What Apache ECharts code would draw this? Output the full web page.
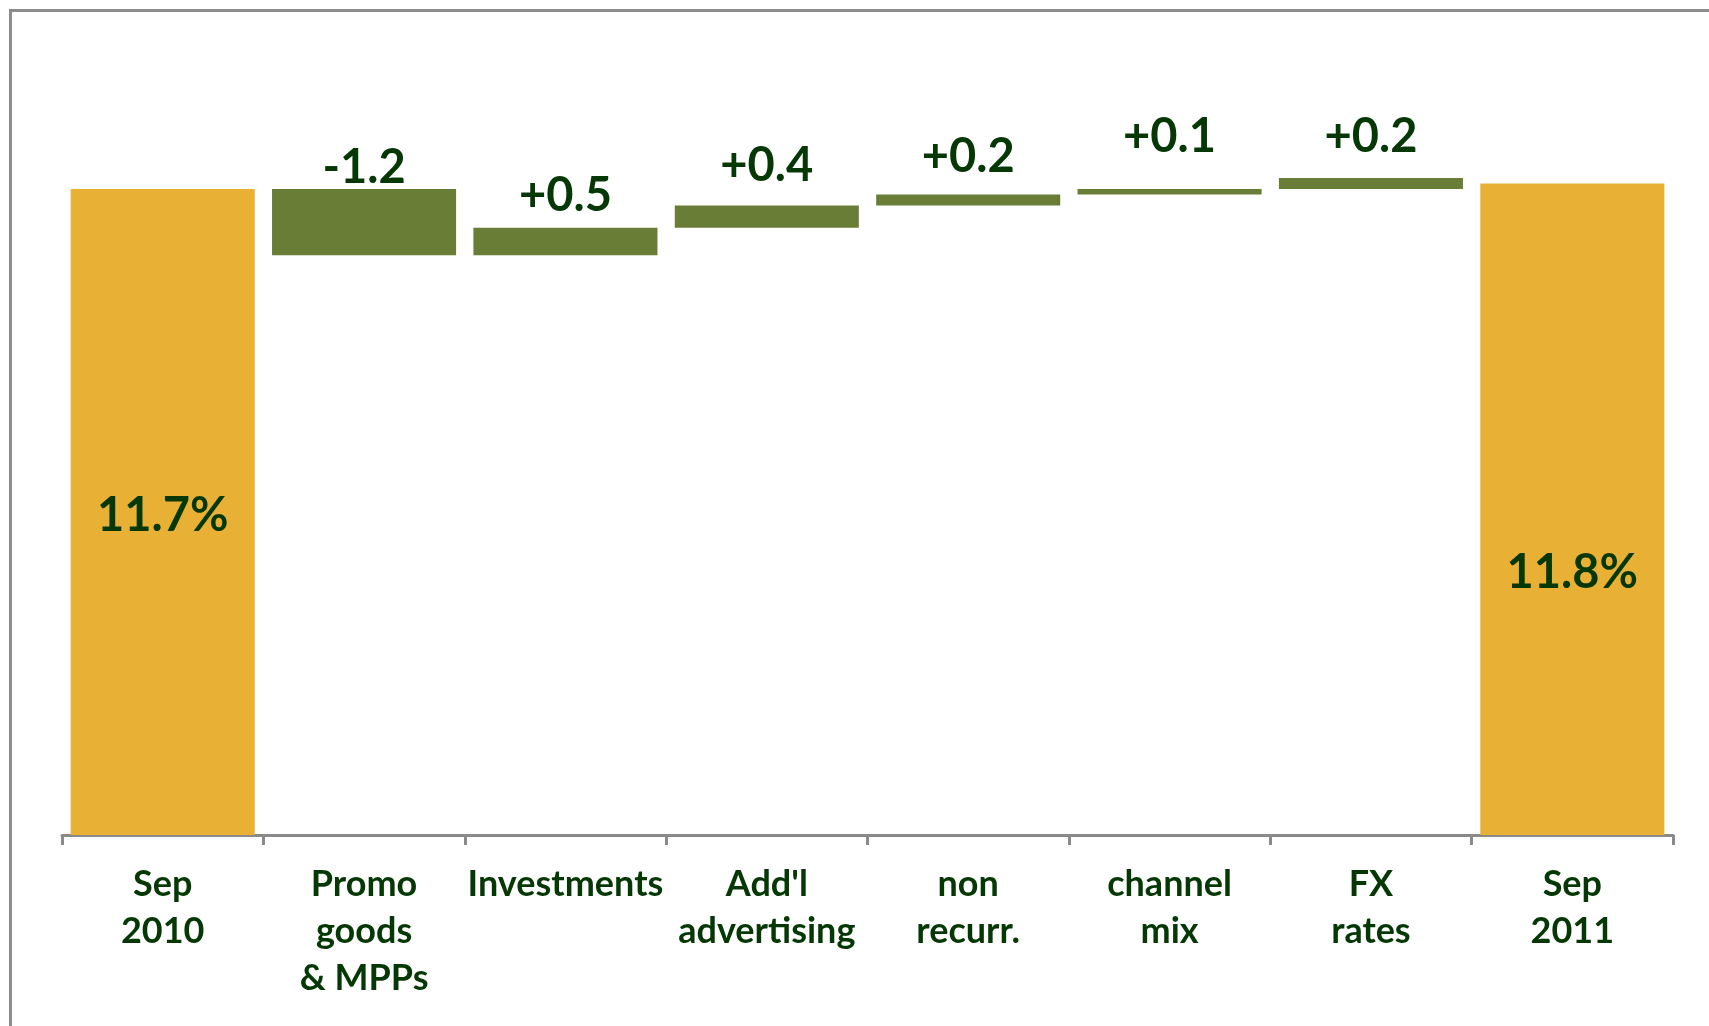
<!DOCTYPE html>
<html>
<head>
<meta charset="utf-8">
<title>Margin bridge Sep 2010 – Sep 2011</title>
<script src="https://cdn.jsdelivr.net/npm/echarts@6/dist/echarts.min.js"></script>
<style>
  html, body { margin: 0; padding: 0; background: #ffffff; }
  #chart { width: 1709px; height: 1026px; }
</style>
</head>
<body>
<div id="chart"></div>
<script>
// ---- data ----
const categories = ['Sep\n2010', 'Promo\ngoods\n& MPPs', 'Investments', "Add'l\nadvertising",
                    'non\nrecurr.', 'channel\nmix', 'FX\nrates', 'Sep\n2011'];
const startValue = 11.7;                           // Sep 2010, %
const deltas = [-1.2, 0.5, 0.4, 0.2, 0.1, 0.2];    // percentage-point changes
const endValue = 11.8;                             // Sep 2011, %

// ---- styling ----
const GOLD = '#e8b035';
const GREEN = '#697d37';
const TEXT = '#053805';
const GREY = '#8a8a8a';
const FONT = 'Lato';
// gap between each change bar and its value label
const changeLabelGap = [-3, 8, 16, 14, 28, 17];

// ---- waterfall geometry from the data ----
const n = categories.length;
const baseData = new Array(n).fill(0);
const totalData = new Array(n).fill('-');
const changeData = new Array(n).fill('-');
totalData[0] = startValue;
totalData[n - 1] = endValue;
let running = startValue;
deltas.forEach((d, i) => {
  const idx = i + 1;
  const next = running + d;
  baseData[idx] = +Math.min(running, next).toFixed(4);
  changeData[idx] = {
    value: +Math.abs(d).toFixed(4),
    label: { distance: changeLabelGap[i] }
  };
  running = next;
});

const fmtDelta = d => (d > 0 ? '+' : '') + d.toFixed(1);

const chart = echarts.init(document.getElementById('chart'), null, { renderer: 'canvas' });
chart.setOption({
  animation: false,
  backgroundColor: '#ffffff',
  graphic: [{
    type: 'rect',
    shape: { x: 10.5, y: 10.5, width: 1740, height: 1060 },
    style: { fill: 'none', stroke: '#8c8c8c', lineWidth: 3 },
    silent: true
  }],
  grid: { left: 62, right: 36, top: 62, bottom: 191 },
  xAxis: {
    type: 'category',
    data: categories,
    axisLine: { lineStyle: { color: GREY, width: 3 } },
    axisTick: { show: true, length: 10, lineStyle: { color: GREY, width: 3 } },
    axisLabel: {
      interval: 0,
      margin: 26,
      color: TEXT,
      fontFamily: FONT,
      fontWeight: 'bold',
      fontSize: 36,
      lineHeight: 47
    }
  },
  yAxis: {
    type: 'value',
    min: 0,
    max: 14,
    show: false,
    splitLine: { show: false }
  },
  series: [
    {
      name: 'base',
      type: 'bar',
      stack: 'bridge',
      barWidth: '91.4%',
      itemStyle: { color: 'transparent' },
      emphasis: { disabled: true },
      data: baseData
    },
    {
      name: 'margin',
      type: 'bar',
      stack: 'bridge',
      barWidth: '91.4%',
      itemStyle: { color: GOLD },
      label: {
        show: true,
        position: 'inside',
        color: TEXT,
        fontFamily: FONT,
        fontWeight: 'bold',
        fontSize: 47,
        formatter: p => p.value.toFixed(1) + '%'
      },
      data: totalData.map((v, i) => (v === '-' ? v : {
        value: v,
        label: { offset: [0, i === 0 ? 4 : 64] }
      }))
    },
    {
      name: 'change',
      type: 'bar',
      stack: 'bridge',
      barWidth: '91.4%',
      itemStyle: { color: GREEN },
      label: {
        show: true,
        position: 'top',
        color: TEXT,
        fontFamily: FONT,
        fontWeight: 'bold',
        fontSize: 47,
        lineHeight: 48,
        formatter: p => fmtDelta(deltas[p.dataIndex - 1])
      },
      data: changeData
    }
  ]
});
</script>
</body>
</html>
